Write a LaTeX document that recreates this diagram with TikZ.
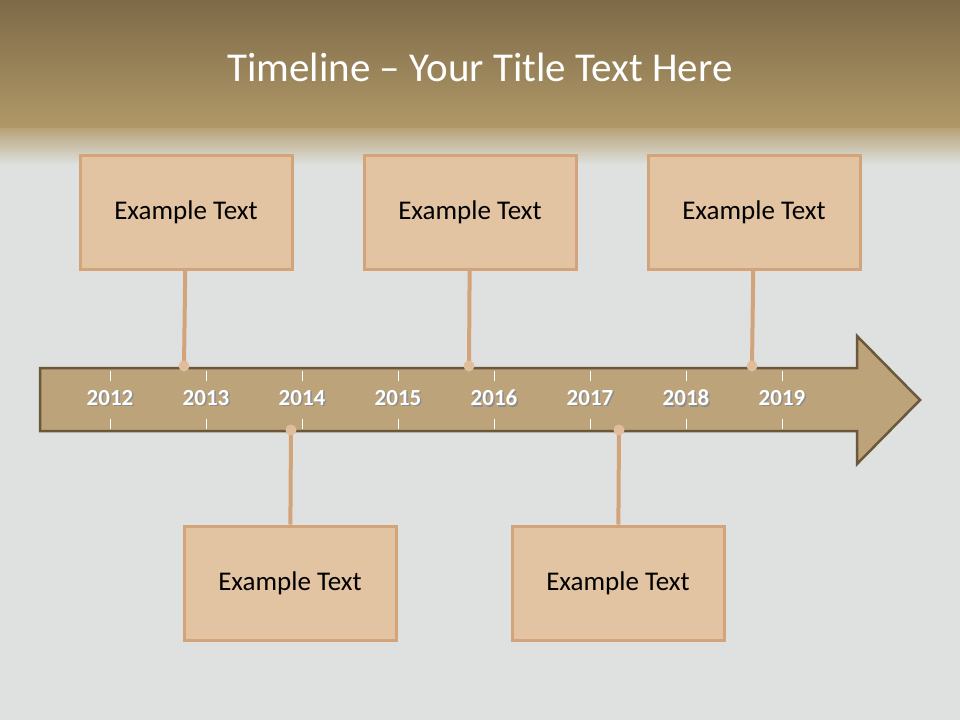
\documentclass[tikz,border=0pt]{standalone}
\usepackage{fontspec}
\setmainfont{Carlito}
\usepackage{tikz}
\usetikzlibrary{positioning}

\definecolor{bartop}{HTML}{7E6A48}
\definecolor{barbot}{HTML}{B09868}
\definecolor{wall}{HTML}{DEE1DF}
\definecolor{arrowfill}{HTML}{BCA37A}
\definecolor{arrowline}{HTML}{6B583B}
\definecolor{boxfill}{HTML}{E2C3A2}
\definecolor{boxline}{HTML}{D3A479}

\tikzset{
  textbox/.style={draw=boxline, line width=3pt, fill=boxfill, minimum width=212pt,
    minimum height=114pt, inner sep=0pt, font=\fontsize{27}{32}\selectfont},
  stem/.style={boxline, line width=4pt},
  yearlabel/.style={font=\bfseries\fontsize{23}{27}\selectfont},
}

\begin{document}
\begin{tikzpicture}[x=1pt,y=-1pt]

          % Background and title bar
          \useasboundingbox (0,0) rectangle (960,720);
          \fill[wall] (0,0) rectangle (960,720);
          \shade[top color=bartop, bottom color=barbot] (0,0) rectangle (960,128);
          \shade[top color=barbot!90!white, bottom color=wall] (0,128) rectangle (960,165);
          \node[white, font=\fontsize{41}{48}\selectfont] (title) at (480,67) {Timeline -- Your Title Text Here};

          % Draw the arrow
          \draw[arrowline, line width=2.5pt, fill=arrowfill, line join=miter]
               (40,368) -- (857,368) -- (857,336) -- (920,400) -- (857,464)
               -- (857,431) -- (40,431) -- cycle;

          % Ticks and years
          \foreach \yr [count=\i from 0] in {2012,...,2019} {
              \coordinate (y\yr) at ({110+96*\i},398);
              \draw[white, line width=1pt] ({110+96*\i},371) -- ({110+96*\i},381);
              \draw[white, line width=1pt] ({110+96*\i},419) -- ({110+96*\i},429);
              \node[yearlabel, black!45] at ({111.5+96*\i},399.5) {\yr};
              \node[yearlabel, white] (lab\yr) at (y\yr) {\yr};
          }

          % Text boxes above and below the arrow
          \node[textbox] (box1) at (186,212) {Example Text};
          \node[textbox] (box2) at (470,212) {Example Text};
          \node[textbox] (box3) at (754,212) {Example Text};
          \node[textbox] (box4) at (290,583) {Example Text};
          \node[textbox] (box5) at (618,583) {Example Text};

          % Points on the arrow
          \coordinate (p1) at (184,366);
          \coordinate (p2) at (469,366);
          \coordinate (p3) at (752,366);
          \coordinate (p4) at (291,430);
          \coordinate (p5) at (619,430);

          \foreach \b in {1,...,5} {
              \draw[stem] (box\b) -- (p\b);
              \fill[boxfill!85!boxline] (p\b) circle (5.5pt);
          }

\end{tikzpicture}
\end{document}
